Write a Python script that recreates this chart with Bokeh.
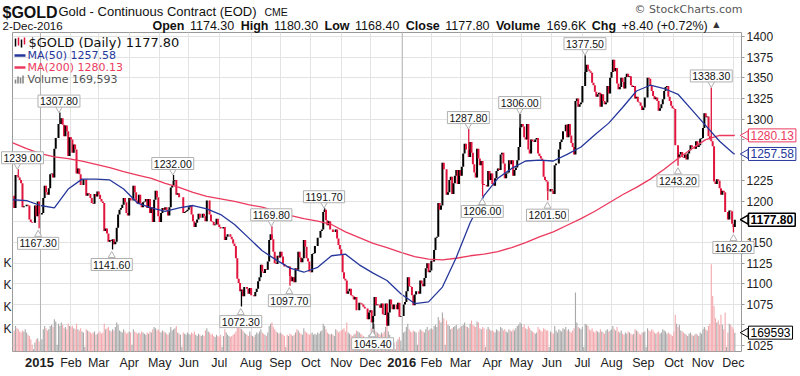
import numpy as np
import pandas as pd
from bokeh.plotting import figure
from bokeh.models import Range1d, LinearAxis, FixedTicker, ColumnDataSource, Span
from bokeh.core.properties import value
from bokeh.embed import file_html
from bokeh.resources import INLINE

# ---------------- daily closes (continuous gold contract), one list per month ----------------
dec14 = [1207, 1192, 1232, 1231, 1229, 1226, 1222, 1193, 1194, 1194, 1196, 1195, 1178, 1175, 1174, 1174, 1195, 1182, 1200, 1184]
jan15 = [1184, 1186, 1204, 1219, 1211, 1208, 1216, 1233, 1234, 1229, 1264, 1277, 1277, 1294, 1294, 1301, 1293, 1279, 1292, 1285, 1255, 1278]
feb15 = [1275, 1259, 1269, 1263, 1234, 1240, 1233, 1220, 1220, 1227, 1227, 1207, 1210, 1209, 1204, 1198, 1197, 1209, 1206, 1212]
mar15 = [1208, 1203, 1200, 1198, 1164, 1167, 1161, 1151, 1153, 1152, 1154, 1148, 1151, 1168, 1184, 1190, 1192, 1196, 1204, 1199, 1186, 1183]
apr15 = [1204, 1201, 1201, 1219, 1211, 1201, 1197, 1208, 1198, 1193, 1199, 1200, 1203, 1192, 1203, 1186, 1193, 1175, 1202, 1213, 1205, 1182]
may15 = [1175, 1186, 1192, 1190, 1193, 1189, 1183, 1193, 1217, 1219, 1225, 1226, 1208, 1210, 1205, 1205, 1205, 1186, 1187, 1188, 1190]
jun15 = [1193, 1195, 1184, 1176, 1169, 1174, 1178, 1185, 1180, 1180, 1185, 1182, 1176, 1201, 1201, 1184, 1176, 1175, 1171, 1172, 1179, 1172]
jul15 = [1169, 1167, 1167, 1169, 1153, 1157, 1160, 1160, 1157, 1154, 1149, 1146, 1131, 1106, 1101, 1091, 1093, 1085, 1096, 1096, 1094, 1088, 1095]
aug15 = [1086, 1086, 1085, 1090, 1094, 1103, 1108, 1123, 1115, 1113, 1118, 1117, 1127, 1153, 1160, 1154, 1139, 1125, 1124, 1134, 1132]
sep15 = [1139, 1133, 1124, 1121, 1121, 1120, 1121, 1109, 1103, 1108, 1102, 1119, 1117, 1139, 1132, 1126, 1131, 1153, 1145, 1131, 1127, 1115]
oct15 = [1114, 1136, 1137, 1146, 1146, 1156, 1156, 1164, 1166, 1187, 1190, 1177, 1171, 1176, 1166, 1166, 1163, 1163, 1166, 1155, 1147, 1142]
nov15 = [1135, 1114, 1106, 1104, 1088, 1091, 1094, 1086, 1085, 1081, 1084, 1068, 1068, 1077, 1076, 1075, 1072, 1070, 1070, 1057, 1065]
dec15 = [1068, 1053, 1061, 1084, 1074, 1075, 1074, 1071, 1076, 1063, 1062, 1076, 1049, 1065, 1081, 1075, 1069, 1075, 1075, 1069, 1077, 1060, 1061]
jan16 = [1061, 1075, 1078, 1091, 1108, 1097, 1096, 1086, 1074, 1087, 1091, 1091, 1088, 1104, 1100, 1097, 1107, 1119, 1125, 1114, 1116]
feb16 = [1128, 1127, 1141, 1156, 1157, 1198, 1190, 1195, 1247, 1239, 1239, 1208, 1211, 1226, 1230, 1209, 1222, 1231, 1238, 1221, 1238]
mar16 = [1231, 1242, 1258, 1270, 1263, 1263, 1254, 1272, 1259, 1245, 1235, 1229, 1264, 1252, 1244, 1249, 1221, 1220, 1220, 1218, 1237, 1226, 1234]
apr16 = [1221, 1219, 1228, 1237, 1240, 1238, 1257, 1259, 1246, 1228, 1234, 1235, 1250, 1245, 1250, 1231, 1238, 1241, 1250, 1266, 1290]
may16 = [1294, 1291, 1278, 1275, 1294, 1263, 1258, 1275, 1273, 1272, 1275, 1277, 1258, 1255, 1252, 1249, 1230, 1226, 1224, 1212, 1212, 1215]
jun16 = [1213, 1209, 1244, 1246, 1246, 1263, 1272, 1275, 1285, 1285, 1293, 1278, 1294, 1280, 1271, 1266, 1257, 1322, 1325, 1315, 1318, 1320]
jul16 = [1340, 1340, 1357, 1366, 1360, 1358, 1356, 1344, 1341, 1333, 1327, 1330, 1332, 1315, 1330, 1322, 1318, 1320, 1340, 1331, 1350]
aug16 = [1357, 1372, 1358, 1362, 1343, 1336, 1339, 1350, 1345, 1337, 1351, 1355, 1351, 1352, 1341, 1339, 1340, 1325, 1327, 1321, 1320, 1316, 1311]
sep16 = [1314, 1326, 1326, 1350, 1349, 1340, 1334, 1328, 1324, 1326, 1322, 1310, 1313, 1318, 1324, 1334, 1339, 1340, 1327, 1322, 1316, 1313]
oct16 = [1312, 1268, 1268, 1253, 1257, 1260, 1254, 1253, 1257, 1251, 1258, 1262, 1268, 1266, 1266, 1264, 1273, 1266, 1268, 1276, 1277]
nov16 = [1289, 1307, 1302, 1303, 1279, 1275, 1273, 1267, 1224, 1221, 1227, 1225, 1216, 1208, 1213, 1211, 1187, 1187, 1178, 1189, 1188, 1173]
dec16 = [1169, 1177.8]

# ---------------- daily volume (thousands) ----------------
v_dec14 = [170, 190, 230, 210, 200, 180, 170, 190, 180, 200, 170, 150, 140, 110, 60, 20, 80, 110, 120, 90]
v_jan15 = [30, 110, 200, 230, 210, 190, 200, 230, 240, 220, 290, 270, 60, 250, 230, 260, 240, 210, 220, 200, 250, 230]
v_feb15 = [220, 230, 210, 200, 250, 200, 190, 210, 180, 170, 40, 200, 190, 180, 170, 160, 170, 180, 150, 160]
v_mar15 = [170, 180, 160, 170, 250, 200, 210, 220, 190, 180, 200, 190, 220, 260, 240, 190, 180, 170, 200, 180, 160, 170]
v_apr15 = [180, 170, 60, 200, 180, 170, 160, 170, 160, 180, 170, 160, 150, 170, 160, 180, 170, 200, 220, 210, 190, 200]
v_may15 = [180, 170, 190, 180, 170, 160, 150, 170, 220, 190, 200, 210, 230, 170, 160, 150, 40, 170, 160, 150, 170]
v_jun15 = [160, 150, 170, 160, 180, 150, 140, 160, 150, 140, 150, 140, 190, 210, 180, 170, 150, 160, 140, 130, 150, 140]
v_jul15 = [130, 150, 40, 140, 200, 170, 150, 140, 130, 140, 150, 160, 180, 250, 230, 210, 200, 190, 170, 160, 150, 140, 180]
v_aug15 = [150, 140, 130, 150, 170, 160, 180, 200, 170, 160, 150, 140, 170, 230, 250, 260, 220, 200, 180, 170, 160]
v_sep15 = [170, 160, 150, 140, 40, 150, 140, 160, 150, 140, 150, 170, 200, 190, 170, 160, 150, 210, 180, 170, 160, 150]
v_oct15 = [160, 170, 150, 160, 150, 170, 160, 180, 190, 250, 230, 200, 170, 160, 150, 160, 150, 140, 200, 190, 170, 180]
v_nov15 = [190, 200, 210, 180, 260, 170, 160, 150, 140, 150, 160, 190, 180, 170, 160, 150, 140, 120, 40, 100, 150]
v_dec15 = [160, 210, 220, 250, 180, 170, 160, 150, 170, 160, 180, 220, 230, 180, 150, 120, 100, 80, 20, 90, 110, 130, 100]
v_jan16 = [30, 170, 180, 220, 250, 200, 180, 170, 190, 180, 170, 60, 180, 200, 190, 180, 170, 200, 220, 190, 200]
v_feb16 = [210, 200, 230, 240, 220, 310, 280, 260, 350, 300, 60, 280, 240, 230, 200, 210, 220, 230, 240, 200, 210]
v_mar16 = [220, 230, 240, 260, 230, 220, 210, 250, 280, 240, 230, 220, 270, 260, 210, 200, 220, 210, 40, 200, 220, 200, 190]
v_apr16 = [190, 180, 170, 200, 190, 180, 220, 210, 190, 200, 180, 170, 200, 190, 180, 200, 190, 210, 230, 240, 260]
v_may16 = [250, 220, 240, 210, 200, 230, 210, 190, 180, 170, 160, 170, 220, 200, 190, 180, 210, 200, 190, 190, 40, 180]
v_jun16 = [170, 160, 230, 190, 170, 200, 190, 180, 210, 200, 220, 190, 200, 180, 170, 190, 210, 530, 260, 220, 210, 200]
v_jul16 = [220, 40, 250, 240, 230, 200, 190, 210, 180, 170, 190, 180, 170, 200, 180, 170, 160, 190, 200, 180, 190]
v_aug16 = [200, 230, 200, 190, 220, 180, 170, 190, 160, 150, 170, 160, 180, 170, 160, 150, 160, 200, 190, 180, 160, 150, 170]
v_sep16 = [170, 180, 40, 210, 190, 180, 200, 190, 170, 160, 170, 180, 160, 170, 200, 190, 180, 160, 170, 160, 150, 140]
v_oct16 = [180, 330, 250, 220, 240, 190, 180, 170, 160, 150, 140, 160, 170, 150, 140, 150, 160, 150, 140, 170, 160]
v_nov16 = [200, 220, 200, 190, 230, 250, 785, 500, 410, 300, 260, 280, 240, 330, 240, 200, 350, 40, 170, 250, 240, 220]
v_dec16 = [200, 169.593]

# ---------------- moving averages read every 10 bars (last = final bar) ----------------
ma50_vals = [1202, 1201, 1195, 1192, 1215, 1227, 1227, 1226, 1215, 1198,
             1192, 1188, 1192, 1195, 1191, 1184, 1172, 1156, 1140, 1129,
             1119, 1114, 1120, 1134, 1136, 1123, 1113, 1104, 1088, 1076,
             1078, 1096, 1132, 1174, 1207, 1228, 1240, 1249, 1250, 1249,
             1257, 1266, 1281, 1295, 1314, 1334, 1341, 1337, 1330, 1311,
             1292, 1273, 1258, 1257.58]
ma200_vals = [1271, 1264, 1258, 1254, 1252, 1249, 1245, 1241, 1236, 1232,
              1228, 1222, 1217, 1211, 1206, 1203, 1200, 1196, 1193, 1188,
              1183, 1179, 1176, 1172, 1163, 1156, 1149, 1144, 1138, 1133,
              1130, 1129, 1131, 1134, 1136, 1139, 1144, 1150, 1157, 1163,
              1171, 1179, 1188, 1198, 1208, 1217, 1227, 1239, 1252, 1264,
              1275, 1280, 1280, 1280.13]

# ---------------- annotated highs / lows ----------------
ann_dates = ["2014-12-10", "2014-12-31", "2015-01-21", "2015-03-16", "2015-05-15", "2015-07-23",
             "2015-08-24", "2015-09-10", "2015-10-15", "2015-12-03", "2016-03-09", "2016-03-23",
             "2016-04-29", "2016-05-27", "2016-07-05", "2016-10-06", "2016-11-09", "2016-12-01"]
ann_prices = [1239.00, 1167.30, 1307.80, 1141.60, 1232.00, 1072.30,
              1169.80, 1097.70, 1191.70, 1045.40, 1287.80, 1206.00,
              1306.00, 1201.50, 1377.50, 1243.20, 1338.30, 1162.20]
ann_is_high = [True, False, True, False, True, False,
               True, False, True, False, True, False,
               True, False, True, False, True, False]

month_names = ["2015", "Feb", "Mar", "Apr", "May", "Jun", "Jul", "Aug", "Sep", "Oct", "Nov", "Dec",
               "2016", "Feb", "Mar", "Apr", "May", "Jun", "Jul", "Aug", "Sep", "Oct", "Nov", "Dec"]
price_ticks = [1025, 1050, 1075, 1100, 1125, 1150, 1175, 1200, 1225, 1250, 1275, 1300, 1325, 1350, 1375, 1400]
vol_ticks = [200000, 400000, 600000, 800000]

last_ma50 = 1257.58
last_ma200 = 1280.13
last_close = 1177.80
last_volume = 169593
header_items = [("Open", "1174.30"), ("High", "1180.30"), ("Low", "1168.40"), ("Close", "1177.80"),
                ("Volume", "169.6K"), ("Chg", "+8.40 (+0.72%)")]

# ---------------- assemble ----------------
close_months = [dec14, jan15, feb15, mar15, apr15, may15, jun15, jul15, aug15, sep15, oct15, nov15, dec15,
                jan16, feb16, mar16, apr16, may16, jun16, jul16, aug16, sep16, oct16, nov16, dec16]
vol_months = [v_dec14, v_jan15, v_feb15, v_mar15, v_apr15, v_may15, v_jun15, v_jul15, v_aug15, v_sep15,
              v_oct15, v_nov15, v_dec15, v_jan16, v_feb16, v_mar16, v_apr16, v_may16, v_jun16, v_jul16,
              v_aug16, v_sep16, v_oct16, v_nov16, v_dec16]
closes = np.array(sum(close_months, []), dtype=float)
vols = np.array(sum(vol_months, []), dtype=float) * 1000.0
dates = pd.bdate_range("2014-12-04", "2016-12-02")
assert len(dates) == len(closes) == len(vols), (len(dates), len(closes), len(vols))
n = len(closes)
xs = np.arange(n)
opens = np.r_[closes[0], closes[:-1]]
up = closes >= opens
RED = "#e0143c"
BLUE = "#26379c"
MARED = "#ec3a5e"
candle_col = np.where(up, "#000000", RED)
vol_col = np.where(up, "#a9a9a9", "#f3a9ae")
pos = {d.strftime("%Y-%m-%d"): i for i, d in enumerate(dates)}

ser = pd.Series(xs, index=dates)
month_start = [int(g.iloc[0]) for _, g in ser.groupby([dates.year, dates.month])][1:]
ma_x = list(range(0, n - 1, 10)) + [n - 1]

# ---------------- main figure ----------------
TOP, BOT, LEFT, RIGHT = 32, 25, 11, 59
W, H = 800, 376
X0, X1 = -0.2, 525.8
Y0, Y1 = 1017.8, 1405.0
VMAX = 2.87e6
ppp = (Y1 - Y0) / (H - TOP - BOT)
bpp = (X1 - X0) / (W - LEFT - RIGHT)
vpp = VMAX / (H - TOP - BOT)

def px(i):   # bar index -> canvas pixel (same mapping as the main frame)
    return LEFT + (i - X0) / bpp

def py(v):   # price -> canvas pixel
    return TOP + (Y1 - v) / ppp

def pyv(v):  # volume -> canvas pixel
    return H - BOT - v / vpp

p = figure(width=W, height=H, output_backend="svg", toolbar_location=None,
           x_range=Range1d(X0, X1), y_range=Range1d(Y0, Y1),
           y_axis_location="right", min_border_left=LEFT, min_border_right=RIGHT,
           min_border_top=TOP, min_border_bottom=BOT,
           background_fill_color="white", border_fill_color="white",
           outline_line_color="#9a9a9a")
p.extra_y_ranges = {"vol": Range1d(0, VMAX)}

GRID = "#e3e3e3"
p.xgrid.ticker = FixedTicker(ticks=month_start)
p.xgrid.grid_line_color = GRID
p.ygrid.ticker = FixedTicker(ticks=price_ticks)
p.ygrid.grid_line_color = GRID

xa = p.xaxis[0]
xa.ticker = FixedTicker(ticks=month_start)
xa.major_label_overrides = {int(i): ("" if nm in ("2015", "2016") else nm) for i, nm in zip(month_start, month_names)}
xa.axis_line_color = None
xa.major_tick_line_color = None
xa.minor_tick_line_color = None
xa.major_tick_out = 0
xa.major_tick_in = 0
xa.minor_tick_out = 0
xa.major_label_text_font = "Liberation Sans"
xa.major_label_text_font_size = "12.5px"
xa.major_label_text_color = "#222222"
xa.major_label_standoff = 4

ya = p.yaxis[0]
ya.ticker = FixedTicker(ticks=price_ticks)
ya.major_label_overrides = {1275: "", 1250: "", 1175: "", 1050: ""}
ya.axis_line_color = None
ya.major_tick_in = 0
ya.major_tick_out = 3
ya.minor_tick_out = 0
ya.major_tick_line_color = "#999999"
ya.minor_tick_line_color = None
ya.major_label_standoff = 2
ya.major_label_text_font = "Liberation Sans"
ya.major_label_text_font_size = "12px"
ya.major_label_text_color = "#222222"

va = LinearAxis(y_range_name="vol", ticker=FixedTicker(ticks=vol_ticks),
                major_label_overrides={t: "K" for t in vol_ticks},
                axis_line_color=None, major_tick_line_color=None, minor_tick_line_color=None,
                major_tick_out=0, major_tick_in=0, minor_tick_out=0, minor_tick_in=0,
                major_label_standoff=1, major_label_text_font="Liberation Sans",
                major_label_text_font_size="12px", major_label_text_color="#222222")
p.add_layout(va, "left")

for i, nm in zip(month_start, month_names):
    if nm in ("2015", "2016"):
        p.add_layout(Span(location=i, dimension="height", line_color="#b5b5b5", line_width=1))

src = ColumnDataSource(dict(x=xs, o=opens, c=closes, col=candle_col, v=vols, vc=vol_col))
p.vbar(x="x", top="v", bottom=0, width=0.8, fill_color="vc", line_color=None, y_range_name="vol", source=src)
p.segment(x0="x", y0="o", x1="x", y1="c", line_color="col", line_width=2.0, source=src)

ai = [pos[d] for d in ann_dates]
base = [max(opens[i], closes[i]) if hi else min(opens[i], closes[i]) for i, hi in zip(ai, ann_is_high)]
p.segment(x0=ai, y0=base, x1=ai, y1=ann_prices, line_color=[candle_col[i] for i in ai], line_width=1.3)

p.line(ma_x, ma200_vals, line_color=MARED, line_width=1.3)
p.line(ma_x, ma50_vals, line_color=BLUE, line_width=1.3)

# ---------------- overlay figure in canvas pixels (separate root), for texts outside the frame ----------------
o = figure(width=W, height=H, output_backend="svg", toolbar_location=None,
           x_range=Range1d(0, W), y_range=Range1d(H, 0),
           x_axis_type=None, y_axis_type=None,
           min_border_left=0, min_border_right=0, min_border_top=0, min_border_bottom=0,
           background_fill_alpha=0, border_fill_alpha=0, outline_line_color=None,
           styles={"position": "absolute", "top": "0px", "left": "0px", "pointer-events": "none"})
o.grid.visible = False

def txt(x, y, s, size, col="#111111", font="DejaVu Sans", bold=False, align="left", **kw):
    o.text(x=[x], y=[y], text=[s], text_align=align, text_baseline="middle",
           text_font=value(font), text_font_size=value(size), text_color=col,
           text_font_style="bold" if bold else "normal", **kw)

# bold year labels under the axis
for i, nm in zip(month_start, month_names):
    if nm in ("2015", "2016"):
        txt(px(i), 362, nm, "13px", "#222222", font="Liberation Sans", bold=True, align="center")

# callout boxes for highs / lows (kept inside the canvas)
tri_x = [px(i) for i in ai]
tri_y = [py(pr) + (-4 if hi else 6) for pr, hi in zip(ann_prices, ann_is_high)]
tri_m = ["inverted_triangle" if hi else "triangle" for hi in ann_is_high]
o.scatter(x=tri_x, y=tri_y, marker=tri_m, size=7, fill_color="white", line_color="#b0b0b0")
for i, pr, hi in zip(ai, ann_prices, ann_is_high):
    cxl = min(max(px(i), 22.0), W - 22.0)
    txt(cxl, py(pr) + (-11.5 if hi else 15), f"{pr:.2f}", "10.5px", "#111111", font="Liberation Sans",
        align="center", background_fill_color="white", border_line_color="#b0b0b0", padding=2)

# right-side value boxes
side_vals = [(py(last_ma200), f"{last_ma200:.2f}", MARED, False),
             (py(last_ma50), f"{last_ma50:.2f}", BLUE, False),
             (py(last_close), f"{last_close:.2f}", "#000000", True),
             (pyv(last_volume), f"{last_volume}", "#000000", False)]
for yy, s, col, bold in side_vals:
    o.scatter(x=[W - RIGHT + 4], y=[yy], marker="triangle", angle=np.pi / 2, size=9,
              fill_color="white", line_color=col, line_width=1.5 if bold else 1)
    txt(W - RIGHT + 7, yy, s, "12px", col, font="Liberation Sans", bold=bold, align="left",
        background_fill_color="white", border_line_color=col, border_line_width=1.5 if bold else 1, padding=2)

# in-plot legend
o.segment(x0=[14, 14], y0=[55, 67], x1=[25, 25], y1=[55, 67], line_color=[BLUE, MARED], line_width=2.5)
o.vbar(x=[15, 17.5, 20, 22.5], bottom=[83, 83, 83, 83], top=[79, 76, 77, 75], width=1.6,
       fill_color="#888888", line_color=None)
o.segment(x0=[15, 18, 21, 24], y0=[38, 37, 39, 37], x1=[15, 18, 21, 24], y1=[46, 45, 47, 44],
          line_color=["#000000", RED, "#000000", RED], line_width=1.5)
txt(28, 42, f"$GOLD (Daily) {last_close:.2f}", "13px")
txt(27, 55, f"MA(50) {last_ma50:.2f}", "11px", BLUE)
txt(27, 67, f"MA(200) {last_ma200:.2f}", "11px", MARED)
txt(27, 79, f"Volume {last_volume:,}", "11px", "#555555")

# header
txt(2, 12, "$GOLD", "16px", "#111111", font="Liberation Sans", bold=True)
txt(58, 11, "Gold - Continuous Contract (EOD)", "13px", "#111111", font="Liberation Sans")
txt(264, 11, "CME", "10.5px", "#111111", font="Liberation Sans")
txt(742, 9, "\u00a9 StockCharts.com", "11px", "#555555", font="DejaVu Sans", align="right")
txt(2, 25, "2-Dec-2016", "11.5px", "#111111", font="Liberation Sans")

REG = {c: 0.556 for c in "0123456789"}
REG.update({".": 0.278, " ": 0.278, "+": 0.584, "(": 0.333, ")": 0.333, "%": 0.889, "K": 0.667})
BLD = {"O": 0.778, "p": 0.611, "e": 0.556, "n": 0.611, "H": 0.722, "i": 0.278, "g": 0.611, "h": 0.611,
       "L": 0.611, "o": 0.611, "w": 0.778, "C": 0.722, "l": 0.278, "s": 0.556, "V": 0.667, "u": 0.611,
       "m": 0.889}
fs = 12.5
cx = 152.0
for key, val in header_items:
    for s, b in ((key, True), (val, False)):
        txt(cx, 25, s, f"{fs}px", "#111111", font="Liberation Sans", bold=b)
        tab = BLD if b else REG
        cx += sum(tab.get(ch, 0.6) for ch in s) * fs + 5.5
txt(cx, 24, "\u25b2", "8px", "#333333", font="DejaVu Sans")

open("out.html", "w").write(file_html([p, o], INLINE))
